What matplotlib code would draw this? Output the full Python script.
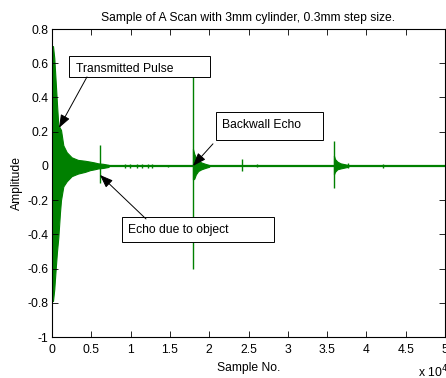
import matplotlib
matplotlib.use("Agg")
import matplotlib.pyplot as plt
from matplotlib.patches import Rectangle

plt.rcParams['font.family'] = ['Liberation Sans', 'DejaVu Sans']

# ringing envelopes (sample no., upper, lower)
pulse_x = [0, 127, 290, 470, 636, 800, 1018, 1145, 1440, 1870, 2500, 3300, 4200, 4830, 5400, 5850, 6500, 7200]
pulse_top = [0.70, 0.70, 0.63, 0.49, 0.36, 0.24, 0.22, 0.21, 0.12, 0.08, 0.05, 0.035, 0.03, 0.025, 0.02, 0.015, 0.012, 0.006]
pulse_bot = [-0.78, -0.79, -0.72, -0.60, -0.50, -0.42, -0.27, -0.20, -0.12, -0.09, -0.06, -0.045, -0.035, -0.025, -0.02, -0.015, -0.012, -0.006]

back_x = [17930, 18100, 18300, 18600, 19000, 19500, 20000]
back_top = [0.10, 0.07, 0.05, 0.03, 0.02, 0.012, 0.005]
back_bot = [-0.08, -0.075, -0.05, -0.03, -0.02, -0.012, -0.005]

third_x = [35870, 36000, 36300, 36700, 37200, 37700]
third_top = [0.06, 0.04, 0.025, 0.015, 0.01, 0.005]
third_bot = [-0.05, -0.035, -0.02, -0.015, -0.01, -0.005]

# isolated spikes (sample no., upper, lower)
spike_x = [6100, 9300, 9900, 10800, 11400, 12200, 12700, 14800, 17930, 24150, 26100, 35870, 37600, 42100]
spike_top = [0.12, 0.01, 0.01, 0.01, 0.01, 0.012, 0.01, 0.008, 0.61, 0.04, 0.01, 0.145, 0.015, 0.01]
spike_bot = [-0.10, -0.01, -0.01, -0.01, -0.01, -0.012, -0.01, -0.008, -0.60, -0.03, -0.005, -0.13, -0.01, -0.01]

xticks = [0, 0.5, 1, 1.5, 2, 2.5, 3, 3.5, 4, 4.5, 5]
yticks = [-1, -0.8, -0.6, -0.4, -0.2, 0, 0.2, 0.4, 0.6, 0.8]

green = '#008000'
fs = 8.7
fig = plt.figure(figsize=(4.46, 3.78), dpi=100)
ax = fig.add_axes([52/446, 41/378, 393/446, 308/378])

ax.plot([0, 50000], [0, 0], color=green, lw=1.6)
for ex, et, eb in [(pulse_x, pulse_top, pulse_bot), (back_x, back_top, back_bot), (third_x, third_top, third_bot)]:
    ax.fill_between(ex, eb, et, color=green, lw=0.8)
ax.vlines(spike_x, spike_bot, spike_top, color=green, lw=1.0)

ax.set_xlim(0, 50000)
ax.set_ylim(-1, 0.8)
ax.set_xticks([t * 1e4 for t in xticks])
ax.set_xticklabels(['%g' % t for t in xticks])
ax.set_yticks(yticks)
ax.set_yticklabels(['%g' % t for t in yticks])
ax.tick_params(direction='in', top=True, right=True, length=4, width=0.6, labelsize=fs)
ax.tick_params(axis='x', pad=5)
ax.tick_params(axis='y', pad=2.5)
for s in ax.spines.values():
    s.set_linewidth(0.8)

ax.set_title('Sample of A Scan with 3mm cylinder, 0.3mm step size.', fontsize=fs, pad=6)
ax.set_xlabel('Sample No.', fontsize=fs, labelpad=4)
ax.set_ylabel('Amplitude', fontsize=fs, labelpad=3)
ax.text(0.932, -0.114, r'x 10$^4$', transform=ax.transAxes, fontsize=fs, ha='left', va='center')

# annotation boxes (data coords) and arrows
boxes = [
    ('Transmitted Pulse', 2160, 0.520, 17940, 0.123, 3050, 0.567, (4450, 0.520), (890, 0.222)),
    ('Backwall Echo', 20860, 0.152, 13610, 0.164, 21620, 0.240, (20480, 0.129), (17940, 0.0)),
    ('Echo due to object', 8900, -0.444, 19340, 0.146, 9670, -0.374, (11960, -0.31), (6100, -0.053)),
]
for txt, bx, by, bw, bh, tx, ty, start, tip in boxes:
    ax.add_patch(Rectangle((bx, by), bw, bh, facecolor='white', edgecolor='black', lw=0.7, zorder=4))
    ax.text(tx, ty, txt, fontsize=fs, ha='left', va='center', zorder=5)
    ax.annotate('', xy=tip, xytext=start, zorder=5,
                arrowprops=dict(arrowstyle='-|>,head_length=0.8,head_width=0.3', color='black', lw=0.7,
                                shrinkA=0, shrinkB=0))

fig.savefig('out.png', dpi=100)
